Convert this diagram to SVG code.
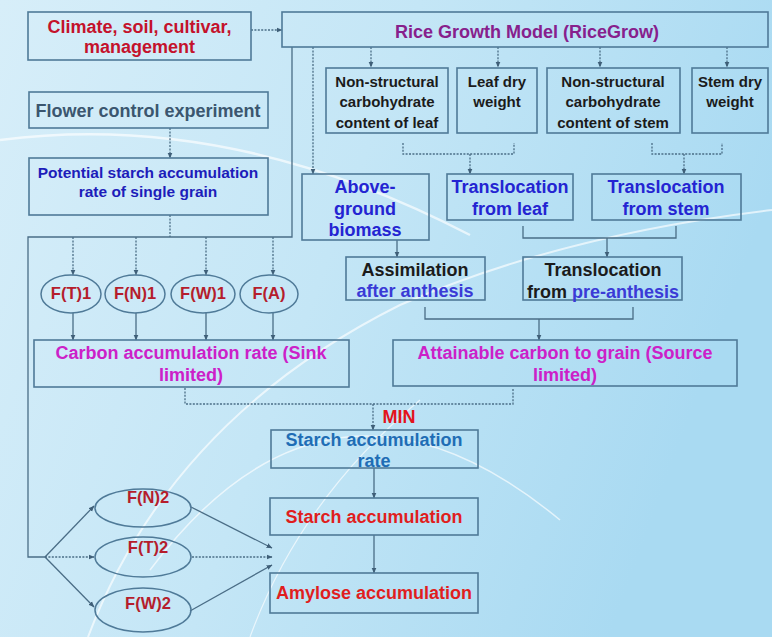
<svg xmlns="http://www.w3.org/2000/svg" width="772" height="637" viewBox="0 0 772 637">
<defs>
<linearGradient id="bg" x1="0" y1="0" x2="1" y2="0.3">
<stop offset="0" stop-color="#d7eef9"/>
<stop offset="0.5" stop-color="#c4e6f6"/>
<stop offset="1" stop-color="#a9daf2"/>
</linearGradient>
<marker id="ah" markerWidth="6" markerHeight="6" refX="5.5" refY="3" orient="auto" markerUnits="userSpaceOnUse">
<path d="M0,0.5 L6,3 L0,5.5 z" fill="#3f5f78"/>
</marker>
<style>
.box{fill:none;stroke:#4f7a98;stroke-width:1.6}
.ell{fill:none;stroke:#4f7a98;stroke-width:1.5}
.t{font-family:"Liberation Sans",Arial,sans-serif;font-weight:bold;text-anchor:middle;font-size:18px}
.s{font-size:15px}
.p{font-size:15.5px}
.f{font-size:16.5px;fill:#b51d2c}
.c{fill:none;stroke:#4a6d86;stroke-width:1.3}
.d{stroke-dasharray:2 1.4}
.a{marker-end:url(#ah)}
.deco{fill:none;stroke:#ffffff;stroke-opacity:0.65}
.red{fill:#c4122c}
.blk{fill:#1b1b1b}
.blu{fill:#2424d2}
.mag{fill:#cc20c8}
</style>
</defs>
<rect width="772" height="637" fill="url(#bg)"/>
<g id="decor">
<path class="deco" stroke-width="2" d="M88,637 Q170,420 400,305 Q560,235 772,210"/>
<path class="deco" stroke-width="1.5" d="M150,570 Q330,330 560,520"/>
<path class="deco" stroke-width="2.5" stroke-opacity="0.45" d="M0,140 Q230,110 470,235"/>
<path class="deco" stroke-width="1.2" d="M250,637 Q300,500 420,400"/>
</g>
<g id="connectors">
<path class="c d a" d="M251,30 H282"/>
<path class="c d a" d="M371,47 V67"/>
<path class="c d a" d="M498,47 V67"/>
<path class="c d a" d="M600,47 V67"/>
<path class="c d a" d="M727,47 V67"/>
<path class="c d a" d="M313,47 V174"/>
<path class="c" d="M292,47 V237 H28 V557 H45"/>
<path class="c d a" d="M170,128 V158"/>
<path class="c d" d="M170,215 V237"/>
<path class="c d a" d="M73,237 V275"/>
<path class="c d a" d="M136,237 V275"/>
<path class="c d a" d="M206,237 V275"/>
<path class="c d a" d="M273,237 V275"/>
<path class="c a" d="M73,313 V340"/>
<path class="c a" d="M136,313 V340"/>
<path class="c a" d="M206,313 V340"/>
<path class="c a" d="M273,313 V340"/>
<path class="c d" d="M403,143 V154 H514 V143"/>
<path class="c d a" d="M470,154 V174"/>
<path class="c d" d="M652,143 V154 H722 V143"/>
<path class="c d a" d="M684,154 V174"/>
<path class="c" d="M523,226 V238 H676 V226"/>
<path class="c a" d="M607,238 V257"/>
<path class="c a" d="M397,240 V257"/>
<path class="c" d="M425,307 V319 H633 V307"/>
<path class="c a" d="M539,319 V340"/>
<path class="c d" d="M185,388 V404 H513 V388"/>
<path class="c d a" d="M373,404 V430"/>
<path class="c a" d="M374,468 V498"/>
<path class="c a" d="M374,535 V573"/>
<path class="c a" d="M45,557 L94,506"/>
<path class="c d a" d="M45,557 H94"/>
<path class="c a" d="M45,557 L94,607"/>
<path class="c a" d="M191,507 L272,548"/>
<path class="c d a" d="M192,557 H272"/>
<path class="c a" d="M190,611 L272,565"/>
</g>
<g id="climate">
<rect class="box" x="28" y="12" width="223" height="48"/>
<text class="t red" x="139.5" y="33">Climate, soil, cultivar,</text>
<text class="t red" x="139.5" y="53">management</text>
</g>
<g id="ricegrow">
<rect class="box" x="282" y="12" width="486" height="35"/>
<text class="t" x="527" y="38" fill="#87208c">Rice Growth Model (RiceGrow)</text>
</g>
<g id="nsc-leaf">
<rect class="box" x="326" y="68" width="122" height="65"/>
<text class="t s blk" x="387" y="87">Non-structural</text>
<text class="t s blk" x="387" y="107">carbohydrate</text>
<text class="t s blk" x="387" y="128">content of leaf</text>
</g>
<g id="leaf-dry">
<rect class="box" x="457" y="68" width="80" height="65"/>
<text class="t s blk" x="497" y="87">Leaf dry</text>
<text class="t s blk" x="497" y="107">weight</text>
</g>
<g id="nsc-stem">
<rect class="box" x="547" y="68" width="133" height="65"/>
<text class="t s blk" x="613" y="87">Non-structural</text>
<text class="t s blk" x="613" y="107">carbohydrate</text>
<text class="t s blk" x="613" y="128">content of stem</text>
</g>
<g id="stem-dry">
<rect class="box" x="692" y="68" width="76" height="65"/>
<text class="t s blk" x="730" y="87">Stem dry</text>
<text class="t s blk" x="730" y="107">weight</text>
</g>
<g id="flower">
<rect class="box" x="29" y="92" width="239" height="36"/>
<text class="t" x="148" y="117" fill="#3b566f">Flower control experiment</text>
</g>
<g id="potential">
<rect class="box" x="29" y="158" width="239" height="57"/>
<text class="t p" x="148" y="178" fill="#1d1dba">Potential starch accumulation</text>
<text class="t p" x="148" y="197" fill="#1d1dba">rate of single grain</text>
</g>
<g id="biomass">
<rect class="box" x="302" y="174" width="127" height="66"/>
<text class="t blu" x="365" y="193">Above-</text>
<text class="t blu" x="365" y="215">ground</text>
<text class="t blu" x="365" y="236">biomass</text>
</g>
<g id="trans-leaf">
<rect class="box" x="447" y="174" width="126" height="46"/>
<text class="t blu" x="510" y="193">Translocation</text>
<text class="t blu" x="510" y="215">from leaf</text>
</g>
<g id="trans-stem">
<rect class="box" x="592" y="174" width="149" height="46"/>
<text class="t blu" x="666" y="193">Translocation</text>
<text class="t blu" x="666" y="215">from stem</text>
</g>
<g id="assimilation">
<rect class="box" x="346" y="257" width="139" height="43"/>
<text class="t blk" x="415" y="276">Assimilation</text>
<text class="t" x="415" y="297" fill="#3a3ad6">after anthesis</text>
</g>
<g id="trans-pre">
<rect class="box" x="523" y="257" width="159" height="43"/>
<text class="t blk" x="603" y="276">Translocation</text>
<text class="t blk" x="603" y="298">from <tspan fill="#3a3ad6">pre-anthesis</tspan></text>
</g>
<g id="ft1">
<ellipse class="ell" cx="71" cy="294" rx="30" ry="19"/>
<text class="t f" x="71" y="299">F(T)1</text>
</g>
<g id="fn1">
<ellipse class="ell" cx="135" cy="294" rx="30" ry="19"/>
<text class="t f" x="135" y="299">F(N)1</text>
</g>
<g id="fw1">
<ellipse class="ell" cx="203" cy="294" rx="32" ry="19"/>
<text class="t f" x="203" y="299">F(W)1</text>
</g>
<g id="fa">
<ellipse class="ell" cx="269" cy="294" rx="29" ry="19"/>
<text class="t f" x="269" y="299">F(A)</text>
</g>
<g id="sink">
<rect class="box" x="34" y="340" width="315" height="47"/>
<text class="t mag" x="191" y="359">Carbon accumulation rate (Sink</text>
<text class="t mag" x="191" y="381">limited)</text>
</g>
<g id="source">
<rect class="box" x="393" y="340" width="344" height="46"/>
<text class="t mag" x="565" y="359">Attainable carbon to grain (Source</text>
<text class="t mag" x="565" y="381">limited)</text>
</g>
<g id="min">
<text class="t" x="399" y="423" font-size="16.5" fill="#e3141c">MIN</text>
</g>
<g id="starch-rate">
<rect class="box" x="271" y="430" width="207" height="38"/>
<text class="t" x="374" y="446" fill="#1f6db5">Starch accumulation</text>
<text class="t" x="374" y="467" fill="#1f6db5">rate</text>
</g>
<g id="starch">
<rect class="box" x="270" y="498" width="208" height="37"/>
<text class="t" x="374" y="523" fill="#e01e1e">Starch accumulation</text>
</g>
<g id="amylose">
<rect class="box" x="270" y="573" width="208" height="40"/>
<text class="t" x="374" y="599" fill="#e01e1e">Amylose accumulation</text>
</g>
<g id="fn2">
<ellipse class="ell" cx="143" cy="508" rx="48" ry="19"/>
<text class="t f" x="148" y="503" font-size="17">F(N)2</text>
</g>
<g id="ft2">
<ellipse class="ell" cx="143" cy="557" rx="48" ry="20"/>
<text class="t f" x="148" y="553" font-size="17">F(T)2</text>
</g>
<g id="fw2">
<ellipse class="ell" cx="143" cy="610" rx="48" ry="22"/>
<text class="t f" x="148" y="609" font-size="17">F(W)2</text>
</g>
</svg>
